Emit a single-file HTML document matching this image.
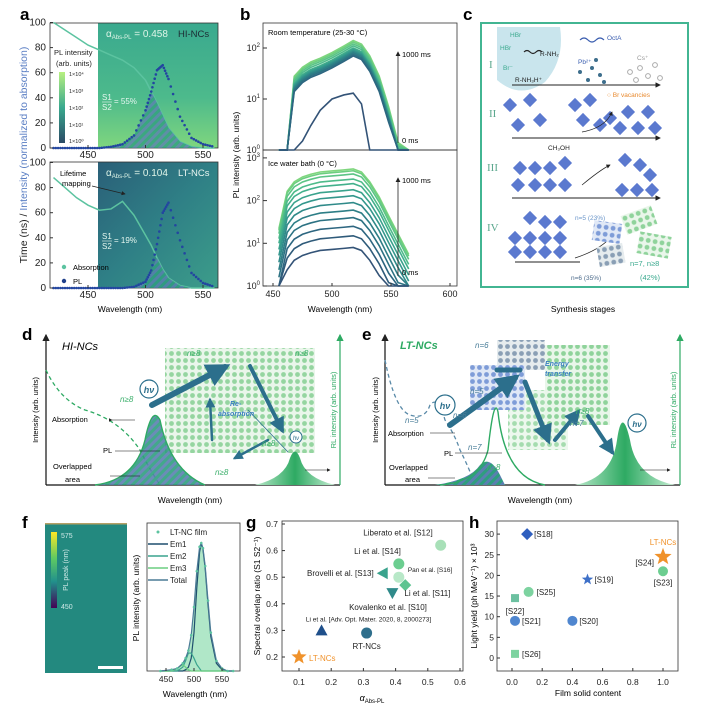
<!DOCTYPE html>
<html><head><meta charset="utf-8"><style>
body{margin:0;background:#fff}
svg{display:block;font-family:"Liberation Sans",sans-serif}
</style></head><body>
<svg id="s" width="712" height="708" viewBox="0 0 712 708">
<defs>
<linearGradient id="gTop" x1="0" y1="0" x2="0" y2="1"><stop offset="0" stop-color="#3aa98e"/><stop offset="0.6" stop-color="#4dba8c"/><stop offset="1" stop-color="#7fd67e"/></linearGradient>
<linearGradient id="gBot" x1="0" y1="0" x2="1" y2="1"><stop offset="0" stop-color="#2a5f78"/><stop offset="0.5" stop-color="#2f8086"/><stop offset="1" stop-color="#3c9d8a"/></linearGradient>
<linearGradient id="gCb" x1="0" y1="0" x2="0" y2="1"><stop offset="0" stop-color="#b8f080"/><stop offset="0.5" stop-color="#3aa98e"/><stop offset="1" stop-color="#2b4a66"/></linearGradient>
<linearGradient id="gVir" x1="0" y1="0" x2="0" y2="1"><stop offset="0" stop-color="#fde725"/><stop offset="0.35" stop-color="#5ec962"/><stop offset="0.65" stop-color="#21918c"/><stop offset="1" stop-color="#440154"/></linearGradient>
<linearGradient id="gPk" x1="0" y1="0" x2="1" y2="0"><stop offset="0" stop-color="#b9e8c9"/><stop offset="0.5" stop-color="#2eaa63"/><stop offset="1" stop-color="#c6eed3"/></linearGradient>
<pattern id="hatch" width="6" height="6" patternUnits="userSpaceOnUse" patternTransform="rotate(45)"><rect width="6" height="6" fill="#2e9e7e"/><rect width="3" height="6" fill="#5a7fb0"/></pattern>
<pattern id="dots" width="7" height="7" patternUnits="userSpaceOnUse"><rect width="7" height="7" fill="#e9f6ea"/><circle cx="3.5" cy="3.5" r="2.4" fill="#8fd39b"/></pattern>
<pattern id="dotsB" width="7" height="7" patternUnits="userSpaceOnUse"><rect width="7" height="7" fill="#e0e8f6"/><circle cx="3.5" cy="3.5" r="2.4" fill="#7e9cd8"/></pattern>
<pattern id="dotsG" width="7" height="7" patternUnits="userSpaceOnUse"><rect width="7" height="7" fill="#e6ecee"/><circle cx="3.5" cy="3.5" r="2.4" fill="#8a9fb5"/></pattern>
<marker id="ah" markerWidth="6" markerHeight="6" refX="5" refY="3" orient="auto"><path d="M0,0 L6,3 L0,6z" fill="#222"/></marker>
<marker id="ahG" markerWidth="6" markerHeight="6" refX="5" refY="3" orient="auto"><path d="M0,0 L6,3 L0,6z" fill="#2eaa63"/></marker>
<marker id="ahT" markerWidth="4" markerHeight="4" refX="3" refY="2" orient="auto"><path d="M0,0 L4,2 L0,4z" fill="#2c6f8c"/></marker>
</defs>

<!-- Panel a -->
<g>
<text x="20" y="20" font-size="17" font-weight="bold">a</text>
<rect x="98" y="23" width="120" height="125" fill="url(#gTop)"/>
<rect x="98" y="162" width="120" height="126" fill="url(#gBot)"/>
<rect x="50" y="23" width="168" height="125" fill="none" stroke="#333" stroke-width="0.8"/>
<rect x="50" y="162" width="168" height="126" fill="none" stroke="#333" stroke-width="0.8"/>
<g id="aTop"></g><g id="aBot"></g>
<text transform="translate(27,155) rotate(-90)" text-anchor="middle" font-size="10.5"><tspan fill="#222">Time (ns) / </tspan><tspan fill="#5b7fc4">Intensity (normalized to absorption)</tspan></text>
<text x="106" y="37" font-size="10" fill="#dff5e8">α<tspan font-size="6" dy="2">Abs-PL</tspan><tspan dy="-2"> = 0.458</tspan></text>
<text x="178" y="37" font-size="9.5" fill="#1c2b33">HI-NCs</text>
<text x="106" y="176" font-size="10" fill="#dff5e8">α<tspan font-size="6" dy="2">Abs-PL</tspan><tspan dy="-2"> = 0.104</tspan></text>
<text x="178" y="176" font-size="9.5" fill="#e8f5f0">LT-NCs</text>
<text x="54" y="55" font-size="7.5" fill="#222">PL intensity</text>
<text x="56" y="66" font-size="7.5" fill="#222">(arb. units)</text>
<rect x="59" y="72" width="6" height="71" fill="url(#gCb)"/>
<g font-size="5.5" fill="#222"><text x="69" y="76">1×10⁴</text><text x="69" y="93">1×10³</text><text x="69" y="110">1×10²</text><text x="69" y="127">1×10¹</text><text x="69" y="143">1×10⁰</text></g>
<text x="102" y="100" font-size="8" fill="#e4f6ee">S1</text><line x1="102" y1="102" x2="112" y2="102" stroke="#e4f6ee" stroke-width="0.6"/><text x="102" y="110" font-size="8" fill="#e4f6ee">S2</text><text x="114" y="104" font-size="8" fill="#e4f6ee">= 55%</text>
<text x="102" y="239" font-size="8" fill="#e4f6ee">S1</text><line x1="102" y1="241" x2="112" y2="241" stroke="#e4f6ee" stroke-width="0.6"/><text x="102" y="249" font-size="8" fill="#e4f6ee">S2</text><text x="114" y="243" font-size="8" fill="#e4f6ee">= 19%</text>
<text x="60" y="176" font-size="7.5">Lifetime</text><text x="62" y="186" font-size="7.5">mapping</text>
<line x1="92" y1="186" x2="125" y2="194" stroke="#222" stroke-width="0.7" marker-end="url(#ah)"/>
<circle cx="64" cy="267" r="2.2" fill="#5cc3a0"/><text x="73" y="270" font-size="7.5">Absorption</text>
<circle cx="64" cy="281" r="2.2" fill="#1f3f8a"/><text x="73" y="284" font-size="7.5">PL</text>
<text x="130" y="312" font-size="8.5" text-anchor="middle">Wavelength (nm)</text>
</g>

<!-- Panel b -->
<g>
<text x="240" y="20" font-size="17" font-weight="bold">b</text>
<rect x="263" y="23" width="194" height="127" fill="none" stroke="#333" stroke-width="0.8"/>
<rect x="263" y="150" width="194" height="136" fill="none" stroke="#333" stroke-width="0.8"/>
<g id="bPlot"></g>
<text x="268" y="35" font-size="7.5">Room temperature (25-30 °C)</text>
<text x="268" y="166" font-size="7.5">Ice water bath (0 °C)</text>
<text transform="translate(239,155) rotate(-90)" text-anchor="middle" font-size="8.5">PL intensity (arb. units)</text>
<text x="340" y="312" font-size="8.5" text-anchor="middle">Wavelength (nm)</text>
<line x1="398" y1="143" x2="398" y2="52" stroke="#222" stroke-width="0.8" marker-end="url(#ah)"/>
<text x="402" y="57" font-size="7.5">1000 ms</text><text x="402" y="143" font-size="7.5">0 ms</text>
<line x1="398" y1="276" x2="398" y2="178" stroke="#222" stroke-width="0.8" marker-end="url(#ah)"/>
<text x="402" y="183" font-size="7.5">1000 ms</text><text x="402" y="275" font-size="7.5">0 ms</text>
</g>

<!-- Panel c -->
<g>
<text x="463" y="20" font-size="17" font-weight="bold">c</text>
<rect x="481" y="23" width="207" height="264" fill="#fff" stroke="#42b592" stroke-width="2"/>
<path d="M497,27 L560,27 Q565,60 545,82 Q520,100 497,80 Z" fill="#bfe0ea" opacity="0.85"/>
<g id="cDraw"></g>
<g fill="#5aa78d" font-family="Liberation Serif,serif" font-size="11"><text x="489" y="68">I</text><text x="489" y="117">II</text><text x="487" y="171">III</text><text x="487" y="231">IV</text></g>
<g stroke="#222" stroke-width="0.9"><line x1="512" y1="85" x2="660" y2="85" marker-end="url(#ah)"/><line x1="512" y1="138" x2="660" y2="138" marker-end="url(#ah)"/><line x1="512" y1="198" x2="660" y2="198" marker-end="url(#ah)"/><line x1="515" y1="262" x2="580" y2="262"/></g>
<g font-size="6.5"><text x="510" y="37" fill="#3aa98e">HBr</text><text x="500" y="50" fill="#3aa98e">HBr</text><text x="540" y="56" fill="#222">R-NH₂</text><text x="503" y="70" fill="#3aa98e">Br⁻</text><text x="515" y="82" fill="#222">R-NH₃H⁺</text><text x="607" y="40" fill="#3c5fb0">OctA</text><text x="578" y="64" fill="#3c5fb0">Pb²⁺</text><text x="637" y="60" fill="#999">Cs⁺</text><text x="607" y="97" fill="#e8892e">○ Br vacancies</text><text x="548" y="150" fill="#222">CH₃OH</text><text x="575" y="220" fill="#6a95c9">n=5 (23%)</text><text x="571" y="280" fill="#4b6a8a">n=6 (35%)</text><text x="630" y="266" fill="#3aa98e" font-size="7.5">n=7, n≥8</text><text x="640" y="280" fill="#3aa98e" font-size="7.5">(42%)</text></g>
<path d="M582,185 Q600,170 610,165" fill="none" stroke="#222" stroke-width="0.7" marker-end="url(#ah)"/>
<path d="M582,132 Q605,128 612,112" fill="none" stroke="#222" stroke-width="0.7" marker-end="url(#ah)"/>
<path d="M575,258 Q600,250 612,236" fill="none" stroke="#222" stroke-width="0.7" marker-end="url(#ah)"/>
<rect x="593" y="222" width="28" height="20" fill="url(#dotsB)" transform="rotate(8 607 232)"/>
<rect x="598" y="245" width="26" height="20" fill="url(#dotsG)" transform="rotate(-10 611 255)"/>
<rect x="623" y="210" width="32" height="20" fill="url(#dots)" transform="rotate(-20 639 220)"/>
<rect x="638" y="234" width="32" height="22" fill="url(#dots)" transform="rotate(10 654 245)"/>
<text x="583" y="312" font-size="8.5" text-anchor="middle">Synthesis stages</text>
</g>

<!-- Panel d -->
<g>
<text x="22" y="340" font-size="17" font-weight="bold">d</text>
<rect x="165" y="348" width="150" height="105" fill="url(#dots)" opacity="0.95"/>
<line x1="46" y1="485" x2="46" y2="335" stroke="#111" stroke-width="1.2" marker-end="url(#ah)"/>
<line x1="46" y1="485" x2="340" y2="485" stroke="#111" stroke-width="1.2"/>
<line x1="340" y1="485" x2="340" y2="335" stroke="#2eaa63" stroke-width="1.2" marker-end="url(#ahG)"/>
<path d="M46,370 Q60,400 85,410 Q120,420 140,450 Q150,470 160,485" fill="none" stroke="#2eaa63" stroke-width="1.3" stroke-dasharray="4,3"/>
<path d="M95,485 Q135,480 145,440 Q152,405 160,420 Q170,470 205,485Z" fill="url(#hatch)" opacity="0.9"/>
<path d="M95,485 Q135,480 145,440 Q152,405 160,420 Q170,470 205,485" fill="none" stroke="#2eaa63" stroke-width="1.4"/>
<path d="M255,485 Q285,478 290,458 Q295,445 300,458 Q305,478 335,485Z" fill="url(#gPk)"/>
<g stroke="#2c6f8c" fill="none" stroke-linecap="round"><line x1="152" y1="405" x2="225" y2="367" stroke-width="6" marker-end="url(#ahT)"/><line x1="250" y1="366" x2="282" y2="430" stroke-width="4" marker-end="url(#ahT)"/><line x1="268" y1="440" x2="235" y2="458" stroke-width="2.5" marker-end="url(#ahT)"/><line x1="212" y1="440" x2="210" y2="400" stroke-width="2.5" marker-end="url(#ahT)"/><line x1="248" y1="410" x2="288" y2="452" stroke-width="0.8"/></g>
<circle cx="149" cy="389" r="9" fill="#fff" stroke="#2c6f8c" stroke-width="1.2"/><text x="149" y="393" font-size="9" font-style="italic" font-weight="bold" text-anchor="middle" fill="#2c6f8c">hν</text>
<circle cx="296" cy="437" r="6" fill="#fff" stroke="#2c6f8c"/><text x="296" y="440" font-size="6" text-anchor="middle" font-style="italic" fill="#2c6f8c">hν</text>
<text x="62" y="350" font-size="11" font-style="italic">HI-NCs</text>
<text x="230" y="406" font-size="7" font-style="italic" font-weight="bold" fill="#3a7fc0">Re-</text><text x="218" y="416" font-size="7" font-style="italic" font-weight="bold" fill="#3a7fc0">absorption</text>
<g font-size="8" font-style="italic" fill="#3eb06d"><text x="187" y="356">n≥8</text><text x="295" y="356">n≥8</text><text x="120" y="402">n≥8</text><text x="262" y="446">n≥8</text><text x="215" y="475">n≥8</text></g>
<g font-size="7.5"><text x="52" y="422">Absorption</text><text x="103" y="453">PL</text><text x="53" y="469">Overlapped</text><text x="65" y="482">area</text></g>
<g stroke="#111" stroke-width="0.6"><line x1="112" y1="420" x2="135" y2="420" marker-start="url(#ah)"/><line x1="115" y1="451" x2="160" y2="451"/><line x1="110" y1="476" x2="140" y2="476"/></g>
<line x1="305" y1="470" x2="330" y2="470" stroke="#111" stroke-width="0.6" marker-end="url(#ah)"/>
<text transform="translate(38,410) rotate(-90)" text-anchor="middle" font-size="7.5">Intensity (arb. units)</text>
<text transform="translate(336,410) rotate(-90)" text-anchor="middle" font-size="7.5" fill="#2eaa63">RL intensity (arb. units)</text>
<text x="190" y="503" font-size="8.5" text-anchor="middle">Wavelength (nm)</text>
</g>

<!-- Panel e -->
<g>
<text x="362" y="340" font-size="17" font-weight="bold">e</text>
<rect x="545" y="345" width="65" height="80" fill="url(#dots)"/>
<rect x="508" y="390" width="60" height="60" fill="url(#dots)" opacity="0.8"/>
<rect x="497" y="340" width="48" height="30" fill="url(#dotsG)"/>
<rect x="470" y="365" width="55" height="45" fill="url(#dotsB)"/>
<line x1="385" y1="485" x2="385" y2="335" stroke="#111" stroke-width="1.2" marker-end="url(#ah)"/>
<line x1="385" y1="485" x2="680" y2="485" stroke="#111" stroke-width="1.2"/>
<line x1="680" y1="485" x2="680" y2="335" stroke="#2eaa63" stroke-width="1.2" marker-end="url(#ahG)"/>
<path d="M385,360 Q395,410 410,415 Q425,420 430,405 Q438,395 445,420 Q455,435 460,450 Q470,470 475,485" fill="none" stroke="#5a8aa8" stroke-width="1.3" stroke-dasharray="4,3"/>
<path d="M435,485 Q470,480 480,465 Q490,455 500,475 L505,485Z" fill="url(#hatch)"/>
<path d="M440,485 Q480,482 488,450 Q494,395 498,412 Q505,478 545,485" fill="none" stroke="#2eaa63" stroke-width="1.4"/>
<path d="M575,485 Q612,478 617,440 Q622,405 630,440 Q636,478 675,485Z" fill="url(#gPk)"/>
<g stroke="#2c6f8c" fill="none" stroke-linecap="round"><line x1="450" y1="425" x2="515" y2="378" stroke-width="6" marker-end="url(#ahT)"/><line x1="497" y1="370" x2="520" y2="370" stroke-width="5"/><line x1="525" y1="382" x2="548" y2="440" stroke-width="5" marker-end="url(#ahT)"/><line x1="555" y1="440" x2="578" y2="412" stroke-width="4" marker-end="url(#ahT)"/><line x1="588" y1="416" x2="612" y2="452" stroke-width="4" marker-end="url(#ahT)"/></g>
<circle cx="445" cy="405" r="10" fill="#fff" stroke="#2c6f8c" stroke-width="1.2"/><text x="445" y="409" font-size="9" font-style="italic" font-weight="bold" text-anchor="middle" fill="#2c6f8c">hν</text>
<circle cx="637" cy="423" r="9" fill="#fff" stroke="#2c6f8c" stroke-width="1.2"/><text x="637" y="427" font-size="8" font-style="italic" font-weight="bold" text-anchor="middle" fill="#2c6f8c">hν</text>
<text x="400" y="349" font-size="11" font-style="italic" font-weight="bold" fill="#2eaa63">LT-NCs</text>
<text x="545" y="366" font-size="7" font-style="italic" font-weight="bold" fill="#3a7fc0">Energy</text><text x="545" y="376" font-size="7" font-style="italic" font-weight="bold" fill="#3a7fc0">transfer</text>
<g font-size="8" font-style="italic" fill="#4b7f9a"><text x="475" y="348">n=6</text><text x="470" y="394">n=5</text><text x="405" y="423">n=5</text><text x="453" y="418">n=6</text><text x="468" y="450">n=7</text><text x="570" y="426">n=7</text></g>
<g font-size="8" font-style="italic" fill="#3eb06d"><text x="576" y="414">n≥8</text><text x="487" y="470">n≥8</text></g>
<g font-size="7.5"><text x="388" y="436">Absorption</text><text x="444" y="456">PL</text><text x="389" y="470">Overlapped</text><text x="405" y="482">area</text></g>
<g stroke="#111" stroke-width="0.6"><line x1="430" y1="433" x2="455" y2="433"/><line x1="455" y1="453" x2="502" y2="453"/><line x1="428" y1="478" x2="455" y2="478"/></g>
<line x1="640" y1="470" x2="670" y2="470" stroke="#111" stroke-width="0.6" marker-end="url(#ah)"/>
<text transform="translate(378,410) rotate(-90)" text-anchor="middle" font-size="7.5">Intensity (arb. units)</text>
<text transform="translate(676,410) rotate(-90)" text-anchor="middle" font-size="7.5" fill="#2eaa63">RL intensity (arb. units)</text>
<text x="540" y="503" font-size="8.5" text-anchor="middle">Wavelength (nm)</text>
</g>

<!-- Panel f -->
<g>
<text x="22" y="528" font-size="17" font-weight="bold">f</text>
<rect x="45" y="523" width="82" height="150" fill="#23897f"/>
<rect x="45" y="523" width="82" height="1.5" fill="#b5a065"/>
<rect x="51" y="532" width="6" height="76" fill="url(#gVir)"/>
<text x="61" y="538" font-size="7" fill="#cfe9e7">575</text><text x="61" y="609" font-size="7" fill="#cfe9e7">450</text>
<text transform="translate(68,570) rotate(-90)" text-anchor="middle" font-size="7" fill="#cfe9e7">PL peak (nm)</text>
<rect x="98" y="666" width="25" height="3" fill="#fff"/>
<g id="fPlot"></g>
<text transform="translate(139,598) rotate(-90)" text-anchor="middle" font-size="8.5">PL intensity (arb. units)</text>
<text x="195" y="697" font-size="8.5" text-anchor="middle">Wavelength (nm)</text>
</g>

<!-- Panel g -->
<g>
<text x="246" y="528" font-size="17" font-weight="bold">g</text>
<g id="gPlot"></g>
<text transform="translate(260,596) rotate(-90)" text-anchor="middle" font-size="8.5">Spectral overlap ratio (S1 S2⁻¹)</text>
<text x="372" y="701" font-size="9" font-style="italic" text-anchor="middle">α<tspan font-size="6" dy="2" font-style="normal">Abs-PL</tspan></text>
</g>

<!-- Panel h -->
<g>
<text x="469" y="528" font-size="17" font-weight="bold">h</text>
<g id="hPlot"></g>
<text transform="translate(477,596) rotate(-90)" text-anchor="middle" font-size="8.5">Light yield (ph MeV⁻¹) × 10³</text>
<text x="588" y="696" font-size="8.5" text-anchor="middle">Film solid content</text>
</g>
</svg>
<script>
const NS='http://www.w3.org/2000/svg';
function mk(p,tag,at){const e=document.createElementNS(NS,tag);for(const k in at)e.setAttribute(k,at[k]);p.appendChild(e);return e;}
function tx(p,x,y,s,sz,anc,fill){const t=mk(p,'text',{x:x,y:y,'font-size':sz||7.5,'text-anchor':anc||'start',fill:fill||'#222'});t.textContent=s;return t;}

// ---------- Panel a data ----------
const aWave=[420,430,440,450,460,470,480,490,500,505,510,515,520,530,540,550,560];
const aAbsTop=[100,94,88,82,78,74,70,64,54,45,36,26,16,5,1,0,0];
const aPLTop=[0,0,0,0,0,1,3,10,30,45,62,66,55,25,8,3,1];
const aAbsBot=[88,80,72,66,62,63,69,58,42,34,24,15,8,2,0,0,0];
const aPLBot=[0,0,0,0,0,0,0,1,5,14,35,60,68,38,12,4,1];
const aTicksX=[450,500,550];
const aTicksY=[0,20,40,60,80,100];
function axA(w){return 88+(w-450)*1.15;}
function drawA(g,top,abs,pl){
  const y=v=>top+126-v*1.255;
  const pts=aWave.map((w,i)=>axA(w)+','+y(abs[i])).join(' ');
  const pl2=mk(g,'polyline',{points:pts,fill:'none',stroke:'#5cc3a0','stroke-width':1.5});
  
  
  let poly=aWave.map((w,i)=>axA(w)+','+y(Math.min(abs[i],pl[i]))).join(' ');
  poly+=' '+axA(560)+','+y(0)+' '+axA(420)+','+y(0);
  const ov=mk(g,'polygon',{points:poly,fill:'url(#hatch)',opacity:0.8});
  
  
  for(let i=0;i<aWave.length-1;i++){for(let k=0;k<5;k++){const f=k/5;const w=aWave[i]+(aWave[i+1]-aWave[i])*f;const v=pl[i]+(pl[i+1]-pl[i])*f;
    const c=mk(g,'circle',{cx:axA(w),cy:y(v),r:1.3,fill:'#2346a0'});
    
    }}
  aTicksY.forEach(v=>{mk(g,'line',{x1:50,x2:53,y1:y(v),y2:y(v),stroke:'#333'});tx(g,46,y(v)+3,String(v),10,'end');});
  aTicksX.forEach(v=>{mk(g,'line',{x1:axA(v),x2:axA(v),y1:top+126,y2:top+123,stroke:'#333'});tx(g,axA(v),top+136,String(v),10,'middle');});
}
drawA(document.getElementById('aTop'),22,aAbsTop,aPLTop);
drawA(document.getElementById('aBot'),162,aAbsBot,aPLBot);

// ---------- Panel b data ----------
const bWave=[455,462,468,475,482,490,500,510,518,525,532,540,548,556,565];
const bShapeTop=[0.005,0.005,0.2,0.3,0.38,0.45,0.58,0.78,1.0,0.85,0.5,0.2,0.05,0.01,0.005];
const bPeaksTop=[140,130,120,110,100,95,90,85,80,75,70];
const bDarkTop=[0.5,0.5,0.5,1.5,3,6,10,12,13,8,0.5,0.5,0.5,0.5,0.5];
const bShapeBot=[0.04,0.3,0.5,0.65,0.75,0.85,0.9,0.95,1.0,0.85,0.5,0.22,0.08,0.03,0.01];
const bPeaksBot=[550,500,420,320,250,180,130,90,60,40,25,15,8];
const bColors=['#7fd67e','#6cce80','#5cc486','#4ebb8a','#42b08c','#3aa38d','#33978c','#2f8a89','#2d7e86','#2c7283','#2d6680','#2f5b7a','#335377'];
function bx(w){return 273+(w-450)*1.18;}
function drawB(g,yb,pxDec,decMax,shape,peaks){
  const ly=v=>yb-Math.log10(Math.max(v,1))*pxDec;
  peaks.forEach((p,j)=>{
    const pts=bWave.map((w,i)=>bx(w)+','+ly(p*shape[i])).join(' ');
    const l=mk(g,'polyline',{points:pts,fill:'none',stroke:bColors[j%bColors.length],'stroke-width':1.6});
    
    
  });
  for(let d=0;d<=decMax;d++){const yy=yb-d*pxDec;mk(g,'line',{x1:263,x2:267,y1:yy,y2:yy,stroke:'#333'});
    const t=tx(g,260,yy+3,'10',9,'end');const s=mk(t,'tspan',{dy:-4,'font-size':6});s.textContent=String(d);}
  return ly;
}
const bg=document.getElementById('bPlot');
const lyTop=drawB(bg,150,51,2,bShapeTop,bPeaksTop);
const dk=mk(bg,'polyline',{points:bWave.map((w,i)=>bx(w)+','+lyTop(bDarkTop[i])).join(' '),fill:'none',stroke:'#335377','stroke-width':1.6});


drawB(bg,286,42.7,3,bShapeBot,bPeaksBot);
const bTicksX=[450,500,550,600];
bTicksX.forEach(v=>{mk(bg,'line',{x1:bx(v),x2:bx(v),y1:286,y2:283,stroke:'#333'});tx(bg,bx(v),297,String(v),9,'middle');});

// ---------- Panel c decorations ----------
const cg=document.getElementById('cDraw');
const cDiamonds=[[510,105],[530,100],[540,120],[518,125],[575,105],[590,100],[583,120],[600,125],[610,118],[628,112],[648,112],[620,128],[638,128],[655,128],
 [520,168],[535,168],[550,168],[565,163],[518,185],[535,185],[550,185],[565,185],[625,160],[640,165],[650,175],[622,190],[637,190],[652,190],
 [530,218],[545,222],[560,222],[515,238],[530,238],[545,238],[560,238],[515,252],[530,252],[545,252],[560,252]];
cDiamonds.forEach(p=>{const r=mk(cg,'rect',{x:p[0]-5,y:p[1]-5,width:10,height:10,fill:'#5b79cf',transform:`rotate(45 ${p[0]} ${p[1]})`});
 
 });
[[580,72],[592,68],[600,75],[588,80],[604,82],[596,60]].forEach(p=>mk(cg,'circle',{cx:p[0],cy:p[1],r:2,fill:'#3d6e8c'}));
[[630,72],[640,68],[648,76],[636,80],[655,65],[660,78]].forEach(p=>mk(cg,'circle',{cx:p[0],cy:p[1],r:2.4,fill:'none',stroke:'#aaa'}));
mk(cg,'path',{d:'M580,40 q4,-4 8,0 t8,0 t8,0',fill:'none',stroke:'#3c5fb0','stroke-width':1.2});
mk(cg,'path',{d:'M524,52 q3,-3 6,0 t6,0 t6,0',fill:'none',stroke:'#222','stroke-width':1.2});

// ---------- Panel f data ----------
const fWave=[440,460,470,480,485,490,495,500,505,510,513,516,520,525,530,540,550,560,570];
const fTotal=[0,1,2,6,10,16,28,50,78,97,100,96,82,55,30,8,2,0,0];
const fEm1=[0,0,0,0,1,3,10,30,65,93,100,95,80,52,27,6,1,0,0];
const fEm2=[0,0,0,3,8,14,14,10,5,2,0,0,0,0,0,0,0,0,0];
const fEm3=[0,0,2,5,3,1,0,0,0,0,0,0,0,0,0,0,0,0,0];
const fg=document.getElementById('fPlot');
const fx=w=>166+(w-450)*0.56, fy=v=>671-v*1.28;
mk(fg,'rect',{x:147,y:523,width:93,height:148,fill:'none',stroke:'#333','stroke-width':0.8});
let fpoly=fWave.map((w,i)=>fx(w)+','+fy(fTotal[i])).join(' ')+` ${fx(570)},671 ${fx(440)},671`;
const fa=mk(fg,'polygon',{points:fpoly,fill:'#6fd39a',opacity:0.55});


[[fEm1,'#1f4f6e','f-em1-line'],[fEm2,'#3aa38d','f-em2-line'],[fEm3,'#6cce80','f-em3-line'],[fTotal,'#4b7b96','f-total-line']].forEach(s=>{
  const l=mk(fg,'polyline',{points:fWave.map((w,i)=>fx(w)+','+fy(s[0][i])).join(' '),fill:'none',stroke:s[1],'stroke-width':1.2});
  
  
});
fWave.forEach((w,i)=>{const c=mk(fg,'circle',{cx:fx(w),cy:fy(fTotal[i]),r:1.3,fill:'#5cc3a0'});
 
 });
const fTicks=[450,500,550];
fTicks.forEach(v=>{mk(fg,'line',{x1:fx(v),x2:fx(v),y1:671,y2:668,stroke:'#333'});tx(fg,fx(v),682,String(v),8.5,'middle');});
const fLeg=[['LT-NC film','#5cc3a0'],['Em1','#1f4f6e'],['Em2','#3aa38d'],['Em3','#6cce80'],['Total','#4b7b96']];
fLeg.forEach((e,i)=>{const yy=532+i*12;if(i==0)mk(fg,'circle',{cx:158,cy:yy,r:1.5,fill:e[1]});else mk(fg,'line',{x1:148,x2:168,y1:yy,y2:yy,stroke:e[1],'stroke-width':1.5});
 const t=tx(fg,170,yy+3,e[0],8,'start');});

// ---------- Panel g data ----------
const gLabels=['LT-NCs','Li et al. [Adv. Opt. Mater. 2020, 8, 2000273]','RT-NCs','Li et al. [S11]','Brovelli et al. [S13]','Li et al. [S14]','Pan et al. [S16]','','Liberato et al. [S12]'];
const gX=[0.10,0.17,0.31,0.39,0.36,0.41,0.41,0.43,0.54];
const gY=[0.20,0.30,0.29,0.44,0.515,0.55,0.50,0.47,0.62];
const gXTicks=[0.1,0.2,0.3,0.4,0.5,0.6];
const gYTicks=[0.2,0.3,0.4,0.5,0.6,0.7];
const gx=v=>299+(v-0.1)*322, gy=v=>657-(v-0.2)*266;
const gg=document.getElementById('gPlot');
mk(gg,'rect',{x:282,y:521,width:181,height:150,fill:'none',stroke:'#333','stroke-width':0.8});
gXTicks.forEach(v=>{mk(gg,'line',{x1:gx(v),x2:gx(v),y1:671,y2:668,stroke:'#333'});tx(gg,gx(v),685,v.toFixed(1),8.5,'middle');});
gYTicks.forEach(v=>{mk(gg,'line',{x1:282,x2:285,y1:gy(v),y2:gy(v),stroke:'#333'});tx(gg,278,gy(v)+3,v.toFixed(1),8.5,'end');});
const gCols=['#f0922b','#1f4f8a','#2f6f8c','#2f8a8a','#3aa38d','#6cce90','#b8e8c8','#5cc490','#a8e0b8'];
gX.forEach((v,i)=>{const cx=gx(v),cy=gy(gY[i]);let m;
  if(i==0){m=mk(gg,'polygon',{points:star(cx,cy,8,3.4),fill:gCols[i]});}
  else if(i==1){m=mk(gg,'polygon',{points:`${cx},${cy-6} ${cx+6},${cy+5} ${cx-6},${cy+5}`,fill:gCols[i]});}
  else if(i==3){m=mk(gg,'polygon',{points:`${cx-6},${cy-5} ${cx+6},${cy-5} ${cx},${cy+6}`,fill:gCols[i]});}
  else if(i==4){m=mk(gg,'polygon',{points:`${cx-6},${cy} ${cx+5},${cy-6} ${cx+5},${cy+6}`,fill:gCols[i]});}
  else if(i==7){m=mk(gg,'polygon',{points:`${cx},${cy-6} ${cx+6},${cy} ${cx},${cy+6} ${cx-6},${cy}`,fill:gCols[i]});}
  else {m=mk(gg,'circle',{cx:cx,cy:cy,r:5.5,fill:gCols[i]});}
  
  
});
const gLabPos=[[10,4,'start','#f0922b'],[47,-9,'middle','#222'],[0,16,'middle','#222'],[12,3,'start','#222'],[-9,3,'end','#222'],[2,-10,'end','#222'],[9,-5,'start','#222'],[0,0,'start','#222'],[-8,-10,'end','#222']];
gLabels.forEach((s,i)=>{if(!s)return;const p=gLabPos[i];const t=tx(gg,gx(gX[i])+p[0],gy(gY[i])+p[1],s,i==1||i==6?6.5:8,p[2],p[3]);
  
  });
tx(gg,388,610,'Kovalenko et al. [S10]',8,'middle');

// ---------- Panel h data ----------
const hLabels=['[S18]','LT-NCs','[S23]','[S24]','[S19]','[S25]','[S22]','[S21]','[S20]','[S26]'];
const hX=[0.10,1.0,1.0,1.0,0.5,0.11,0.02,0.02,0.40,0.02];
const hY=[30,24.5,21,21,19,16,14.5,9,9,1];
const hXTicks=[0,0.2,0.4,0.6,0.8,1.0];
const hYTicks=[0,5,10,15,20,25,30];
const hx=v=>512+v*151, hy=v=>658-v*4.13;
const hg=document.getElementById('hPlot');
mk(hg,'rect',{x:497,y:521,width:181,height:150,fill:'none',stroke:'#333','stroke-width':0.8});
hXTicks.forEach(v=>{mk(hg,'line',{x1:hx(v),x2:hx(v),y1:671,y2:668,stroke:'#333'});tx(hg,hx(v),685,v.toFixed(1),8.5,'middle');});
hYTicks.forEach(v=>{mk(hg,'line',{x1:497,x2:500,y1:hy(v),y2:hy(v),stroke:'#333'});tx(hg,494,hy(v)+3,String(v),8.5,'end');});
const hCols=['#2f5fbf','#f0922b','#6cce90','#6cce90','#3e70c8','#7dd3a0','#6cc0a0','#4f86cf','#4f86cf','#7dd3a0'];
hX.forEach((v,i)=>{const cx=hx(v),cy=hy(hY[i]);let m;
  if(i==1||i==4){m=mk(hg,'polygon',{points:star(cx,cy,i==1?9:6,i==1?3.8:2.5),fill:hCols[i]});}
  else if(i==3){return;}
  else if(i==0){m=mk(hg,'polygon',{points:`${cx},${cy-6} ${cx+6},${cy} ${cx},${cy+6} ${cx-6},${cy}`,fill:hCols[i]});}
  else if(i==6||i==9){m=mk(hg,'rect',{x:cx-4,y:cy-4,width:8,height:8,fill:hCols[i]});}
  else {m=mk(hg,'circle',{cx:cx,cy:cy,r:5,fill:hCols[i]});}
  
  
});
const hLabPos=[[7,3,'start','#222'],[0,-12,'middle','#f0922b'],[0,14,'middle','#222'],[-9,-6,'end','#222'],[7,3,'start','#222'],[8,3,'start','#222'],[0,16,'middle','#222'],[7,3,'start','#222'],[7,3,'start','#222'],[7,3,'start','#222']];
hLabels.forEach((s,i)=>{const p=hLabPos[i];const t=tx(hg,hx(hX[i])+p[0],hy(hY[i])+p[1],s,8,p[2],p[3]);
  
  });

function star(cx,cy,R,r){let p=[];for(let k=0;k<10;k++){const a=-Math.PI/2+k*Math.PI/5;const rr=k%2?r:R;p.push((cx+rr*Math.cos(a)).toFixed(1)+','+(cy+rr*Math.sin(a)).toFixed(1));}return p.join(' ');}
</script>
</body></html>
